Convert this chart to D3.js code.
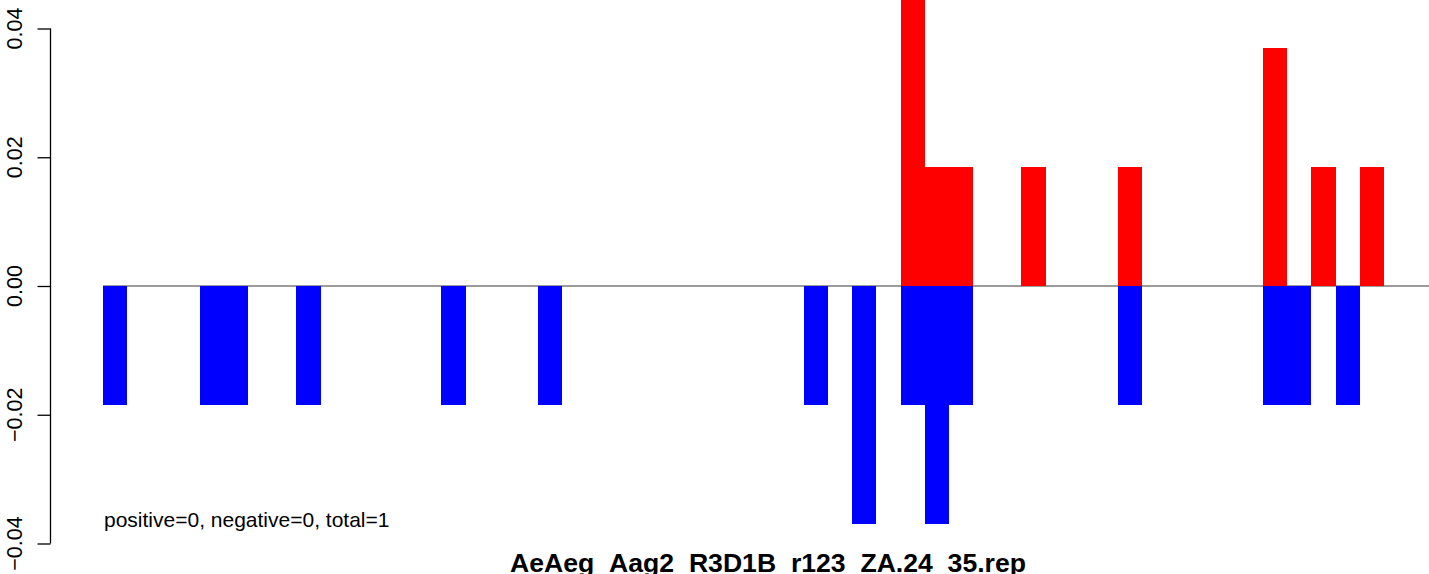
<!DOCTYPE html>
<html>
<head>
<meta charset="utf-8">
<script src="https://cdn.jsdelivr.net/npm/d3@7"></script>
<style>
  html, body { margin: 0; padding: 0; background: #fff; }
  svg { display: block; }
  text { font-family: "Liberation Sans", Arial, Helvetica, sans-serif; }
</style>
</head>
<body>
<div id="chart"></div>
<script>
// Data (bin index along the region, value)
const positiveBins   = [33, 34, 35, 38, 42, 48, 50, 52];
const positiveValues = [0.0556, 0.0185, 0.0185, 0.0185, 0.0185, 0.0370, 0.0185, 0.0185];
const negativeBins   = [0, 4, 5, 8, 14, 18, 29, 31, 33, 34, 35, 42, 48, 49, 51];
const negativeValues = [-0.0185, -0.0185, -0.0185, -0.0185, -0.0185, -0.0185, -0.0185, -0.0370,
                        -0.0185, -0.0370, -0.0185, -0.0185, -0.0185, -0.0185, -0.0185];
const yTicks = [-0.04, -0.02, 0.00, 0.02, 0.04];
const yTickLabels = ["\u22120.04", "\u22120.02", "0.00", "0.02", "0.04"];
const binCount = 53;
const noteText = "positive=0, negative=0, total=1";
const titleText = "AeAeg_Aag2_R3D1B_r123_ZA.24_35.rep";

const W = 1429, H = 574;
const svg = d3.select("#chart").append("svg").attr("width", W).attr("height", H);

const y = d3.scaleLinear().domain([-0.04, 0.04]).range([543.5, 28.5]);
const x = d3.scaleLinear().domain([0, binCount]).range([103, 1384]);

// zero line
svg.append("line")
  .attr("x1", x(0)).attr("x2", W)
  .attr("y1", y(0)).attr("y2", y(0))
  .attr("stroke", "#7a7a7a").attr("stroke-width", 1.3);

const pos = positiveBins.map((b, i) => ({b, v: positiveValues[i]}));
const neg = negativeBins.map((b, i) => ({b, v: negativeValues[i]}));

svg.append("g").selectAll("rect").data(pos).join("rect")
  .attr("x", d => x(d.b)).attr("width", d => x(d.b + 1) - x(d.b))
  .attr("y", d => y(d.v)).attr("height", d => y(0) - y(d.v))
  .attr("fill", "#ff0000").attr("shape-rendering", "crispEdges");

svg.append("g").selectAll("rect").data(neg).join("rect")
  .attr("x", d => x(d.b)).attr("width", d => x(d.b + 1) - x(d.b))
  .attr("y", y(0)).attr("height", d => y(d.v) - y(0))
  .attr("fill", "#0000ff").attr("shape-rendering", "crispEdges");

// y axis
const axisG = svg.append("g").attr("transform", "translate(50.5,0)");
axisG.call(d3.axisLeft(y).tickValues(yTicks).tickSize(13).tickFormat(""))
  .call(g => g.select(".domain").attr("d", `M0,${y(-0.04)}V${y(0.04)}`).attr("stroke", "#000").attr("stroke-width", 1.3))
  .call(g => g.selectAll(".tick line").attr("stroke", "#000").attr("stroke-width", 1.3));

svg.append("g").selectAll("text").data(yTicks).join("text")
  .attr("transform", d => `translate(22,${y(d)}) rotate(-90)`)
  .attr("text-anchor", "middle")
  .attr("font-size", 21.5)
  .text((d, i) => yTickLabels[i]);

// note
svg.append("text")
  .attr("x", 104).attr("y", 527)
  .attr("font-size", 21)
  .text(noteText);

// title
svg.append("text")
  .attr("x", 768).attr("y", 572)
  .attr("text-anchor", "middle")
  .attr("font-size", 26.6).attr("font-weight", "bold")
  .text(titleText);
</script>
</body>
</html>
